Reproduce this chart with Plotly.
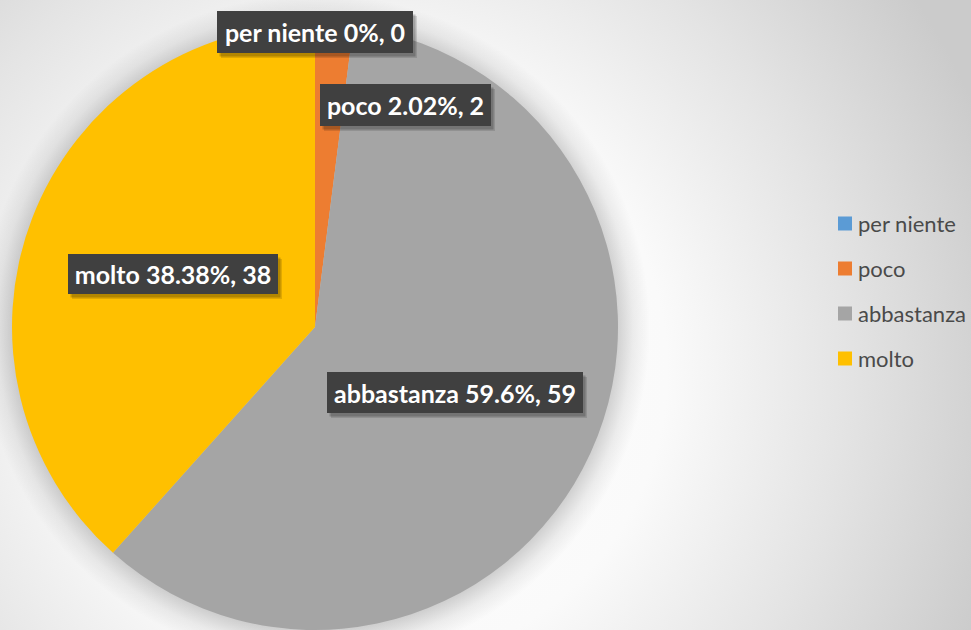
import base64
import plotly.graph_objects as go

# ---- data ----
categories = ["per niente", "poco", "abbastanza", "molto"]
values = [0, 2, 59, 38]
colors = ["#5B9BD5", "#ED7D31", "#A5A5A5", "#FFC000"]

W, H = 971, 630
MT = 24  # top margin (px)
PH = H - MT


def X(px):
    return px / W


def Y(py):
    return (H - py) / PH


total = sum(values)
pct_text = []
for c, v in zip(categories, values):
    p = 100 * v / total
    s = f"{p:.2f}".rstrip("0").rstrip(".")
    pct_text.append(f"{c} {s}%, {v}")

fig = go.Figure(
    go.Pie(
        labels=categories,
        values=values,
        sort=False,
        direction="clockwise",
        rotation=0,
        marker=dict(colors=colors, line=dict(width=0)),
        textinfo="none",
        hoverinfo="label+value+percent",
        showlegend=False,
        domain=dict(x=[X(11), X(619)], y=[0, 1]),
    )
)

# background (radial gradient + pie shadow)
svg = f'''<svg xmlns="http://www.w3.org/2000/svg" width="{W}" height="{H}" viewBox="0 0 {W} {H}">
<defs>
<radialGradient id="bg" gradientUnits="userSpaceOnUse" cx="370" cy="370" r="660">
<stop offset="0" stop-color="#ffffff"/>
<stop offset="0.45" stop-color="#fafafa"/>
<stop offset="0.72" stop-color="#e4e4e4"/>
<stop offset="1" stop-color="#cbcbcb"/>
</radialGradient>
<radialGradient id="sh" gradientUnits="userSpaceOnUse" cx="315" cy="329" r="335">
<stop offset="0.88" stop-color="#000" stop-opacity="0.22"/>
<stop offset="0.95" stop-color="#000" stop-opacity="0.06"/>
<stop offset="1" stop-color="#000" stop-opacity="0"/>
</radialGradient>
</defs>
<rect width="{W}" height="{H}" fill="url(#bg)"/>
<circle cx="315" cy="329" r="335" fill="url(#sh)"/>
</svg>'''
src = "data:image/svg+xml;base64," + base64.b64encode(svg.encode()).decode()

# label boxes: (center x, center y, width, height) in px
label_boxes = [
    (315, 32, 196, 42),
    (405.5, 105, 171, 42),
    (455, 392.5, 256, 41),
    (173, 274, 210, 40),
]

shapes = []
annotations = []
for txt, (cx, cy, bw, bh) in zip(pct_text, label_boxes):
    for off, alpha in ((4, 0.12), (2.5, 0.2)):
        shapes.append(dict(
            type="rect", xref="paper", yref="paper",
            x0=X(cx - bw / 2 + off), x1=X(cx + bw / 2 + off),
            y0=Y(cy + bh / 2 + off + 1), y1=Y(cy - bh / 2 + off + 1),
            fillcolor=f"rgba(0,0,0,{alpha})", line=dict(width=0), layer="above",
        ))
    annotations.append(dict(
        text=f"<b>{txt}</b>", xref="paper", yref="paper",
        x=X(cx), y=Y(cy), xanchor="center", yanchor="middle",
        width=bw, height=bh, showarrow=False, align="center", valign="middle",
        bgcolor="#404040", borderpad=0, borderwidth=0,
        font=dict(family="Lato", size=25, color="#ffffff"),
    ))

# legend (manual, to match spacing)
leg_y = [223.5, 268.5, 313.5, 358.5]
for c, col, ly in zip(categories, colors, leg_y):
    shapes.append(dict(
        type="rect", xref="paper", yref="paper",
        x0=X(838), x1=X(852), y0=Y(ly + 7), y1=Y(ly - 7),
        fillcolor=col, line=dict(width=0), layer="above",
    ))
    annotations.append(dict(
        text=c, xref="paper", yref="paper", x=X(856), y=Y(ly),
        xanchor="left", yanchor="middle", showarrow=False,
        font=dict(family="Lato", size=22, color="#4a4a4a"),
    ))

fig.update_layout(
    width=W, height=H,
    margin=dict(l=0, r=0, t=MT, b=0, pad=0),
    paper_bgcolor="#eeeeee",
    plot_bgcolor="rgba(0,0,0,0)",
    images=[dict(source=src, xref="paper", yref="paper", x=0, y=Y(0),
                 sizex=1, sizey=H / PH, xanchor="left", yanchor="top",
                 sizing="stretch", layer="below")],
    shapes=shapes,
    annotations=annotations,
    showlegend=False,
)

fig.write_html(
    "out.html",
    config={"displayModeBar": False},
    post_script="document.body.style.margin='0';document.body.style.overflow='hidden';",
)
